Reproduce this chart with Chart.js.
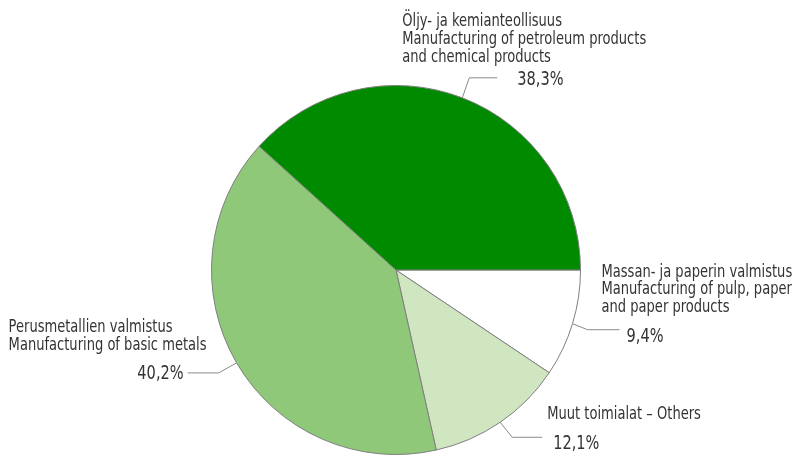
<!DOCTYPE html>
<html>
<head>
<meta charset="utf-8">
<script src="https://cdn.jsdelivr.net/npm/chart.js@4.4.1/dist/chart.umd.min.js"></script>
<style>
html,body{margin:0;padding:0;background:#fff;}
#wrap{width:796px;height:456px;}
</style>
</head>
<body>
<div id="wrap"><canvas id="c" width="796" height="456"></canvas></div>
<script>
// Data (clockwise from 3 o'clock)
const categories = [
  ["Massan- ja paperin valmistus", "Manufacturing of pulp, paper", "and paper products"],
  ["Muut toimialat – Others"],
  ["Perusmetallien valmistus", "Manufacturing of basic metals"],
  ["Öljy- ja kemianteollisuus", "Manufacturing of petroleum products", "and chemical products"]
];
const shares = [9.4, 12.1, 40.2, 38.3];
const valueLabels = ["9,4%", "12,1%", "40,2%", "38,3%"];
const colors = ["#ffffff", "#cfe6c0", "#8fc879", "#008a00"];

// label layout relative to the slice's outer mid-point
const labelLayout = [
  {elbow:[15,6], run:32, valGap:7, valDy:7, nameDx:29, nameDy:[-51,-34,-16]},
  {elbow:[12,15], run:30, valGap:11, valDy:7, nameDx:47, nameDy:[-8]},
  {elbow:[-18,10], run:-31, valGap:4, valDy:1, nameDx:-228, nameDy:[-35,-17]},
  {elbow:[7,-20], run:28, valGap:20, valDy:2, nameDx:-60, nameDy:[-76,-58,-40]}
];

const FONT = '"DejaVu Sans Condensed", "Liberation Sans Narrow", sans-serif';
const SX = 0.83;

function condText(ctx, text, x, y) {
  ctx.save();
  ctx.translate(x, y);
  ctx.scale(SX, 1);
  ctx.fillText(text, 0, 0);
  ctx.restore();
}

const labelPlugin = {
  id: 'pieLabels',
  afterDatasetsDraw(chart) {
    const ctx = chart.ctx;
    const meta = chart.getDatasetMeta(0);
    meta.data.forEach((arc, i) => {
      const p = arc.getProps(['x','y','startAngle','endAngle','outerRadius'], true);
      const mid = (p.startAngle + p.endAngle) / 2;
      const ax = p.x + Math.cos(mid) * p.outerRadius;
      const ay = p.y + Math.sin(mid) * p.outerRadius;
      const L = labelLayout[i];
      const ex = ax + L.elbow[0], ey = ay + L.elbow[1];
      const hx = ex + L.run;
      ctx.save();
      ctx.strokeStyle = '#8a8a8a';
      ctx.lineWidth = 1;
      ctx.beginPath();
      ctx.moveTo(ax, ay);
      ctx.lineTo(ex, ey);
      ctx.lineTo(hx, ey);
      ctx.stroke();
      ctx.fillStyle = '#333333';
      ctx.textBaseline = 'middle';
      ctx.font = '19.5px ' + FONT;
      if (L.run < 0) {
        ctx.textAlign = 'right';
        condText(ctx, valueLabels[i], hx - L.valGap, ey + L.valDy);
      } else {
        ctx.textAlign = 'left';
        condText(ctx, valueLabels[i], hx + L.valGap, ey + L.valDy);
      }
      ctx.textAlign = 'left';
      ctx.font = '17.5px ' + FONT;
      categories[i].forEach((line, k) => {
        condText(ctx, line, ax + L.nameDx, ay + L.nameDy[k]);
      });
      ctx.restore();
    });
  }
};

new Chart(document.getElementById('c'), {
  type: 'pie',
  data: {
    labels: categories.map(c => c[0]),
    datasets: [{
      data: shares,
      backgroundColor: colors,
      borderColor: '#7f7f7f',
      borderWidth: 1
    }]
  },
  options: {
    responsive: false,
    animation: false,
    rotation: 90,
    layout: { padding: { top: 85, bottom: 1, left: 211, right: 215 } },
    plugins: { legend: { display: false }, tooltip: { enabled: false } }
  },
  plugins: [labelPlugin]
});
</script>
</body>
</html>
